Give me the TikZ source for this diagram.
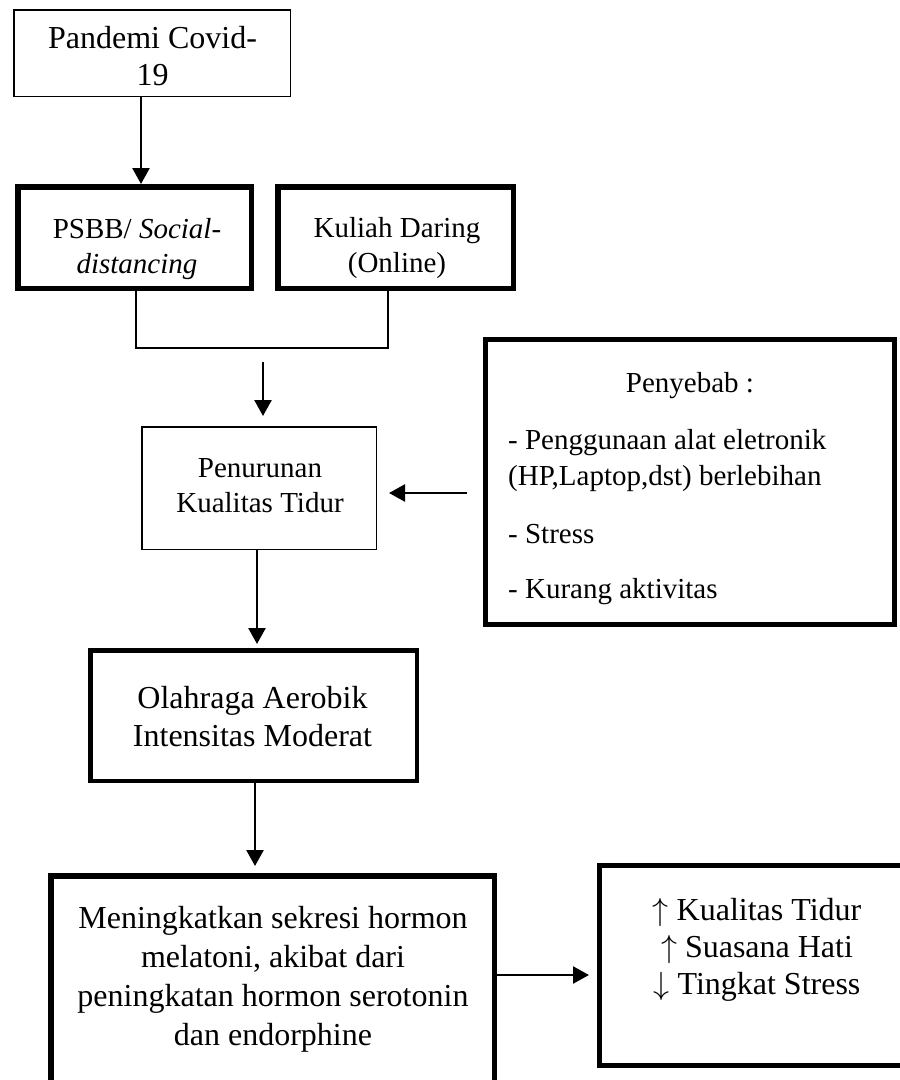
\RequirePackage{fix-cm}
\documentclass[tikz,border=0pt]{standalone}
\usepackage{fontspec}
\setmainfont{Liberation Serif}
\usetikzlibrary{arrows.meta,calc}
\begin{document}
\begin{tikzpicture}[x=1pt,y=-1pt,
  lightbox/.style={draw, rectangle, line width=1.5pt, inner sep=0pt},
  heavybox/.style={draw, rectangle, line width=#1, inner sep=0pt},
  heavybox/.default=5pt,
  arr/.style={line width=2.5pt, -{Triangle[length=16pt,width=17pt]}},
  link/.style={line width=2pt},
  txta/.style={font=\fontsize{29}{35}\selectfont, align=center, inner sep=0pt},
  txtl/.style={font=\fontsize{29}{36}\selectfont, align=left, inner sep=0pt},
  txtb/.style={font=\fontsize{32}{#1}\selectfont, align=center, inner sep=0pt},
  txtb/.default=37pt]
\useasboundingbox (0,0) rectangle (900,1080);
\clip (0,0) rectangle (900,1080);
% boxes
\node[lightbox, minimum width=276.5pt, minimum height=86.5pt] (pand) at (152,53) {};
\node[heavybox=5.5pt, minimum width=233.5pt, minimum height=101.5pt] (psbb) at (134.5,237.5) {};
\node[heavybox=5.5pt, minimum width=235.5pt, minimum height=101.5pt] (kul) at (395.5,237.5) {};
\node[lightbox, minimum width=234.5pt, minimum height=122.5pt] (pen) at (259,488) {};
\node[heavybox=5pt, minimum width=409pt, minimum height=285pt] (sebab) at (690,482) {};
\node[heavybox=4.5pt, minimum width=326.5pt, minimum height=130.5pt] (olah) at (253.5,715.5) {};
\node[heavybox=5.5pt, minimum width=443.5pt, minimum height=241.5pt] (horm) at (272.5,996.5) {};
\node[heavybox=5pt, minimum width=338pt, minimum height=200pt] (hasil) at (768.5,965.5) {};
% texts
\node[txtb=37pt] (tpand) at (152.5,59.1) {\strut Pandemi Covid-\\19\strut};
\node[txta] (tpsbb) at (137,248.5) {\strut PSBB/ \textit{Social-}\\\textit{distancing}\strut};
\node[txta] (tkul) at (397,247.5) {\strut Kuliah Daring\\(Online)\strut};
\node[txta] (tpen) at (260,487.5) {\strut Penurunan\\Kualitas Tidur\strut};
\node[txtl, anchor=base] (tsebab) at (690,392) {Penyebab :};
\node[txtl, anchor=west] (tsebab1) at (508,459.8) {\strut - Penggunaan alat eletronik\\(HP,Laptop,dst) berlebihan\strut};
\node[txtl, anchor=base west] (tsebab2) at (508,543) {- Stress};
\node[txtl, anchor=base west] (tsebab3) at (508,598) {- Kurang aktivitas};
\node[txtb=38pt] (tolah) at (252.5,719.4) {\strut Olahraga Aerobik\\Intensitas Moderat\strut};
\node[txtb=39pt] (thorm) at (273,978.7) {\strut Meningkatkan sekresi hormon\\melatoni, akibat dari\\peningkatan hormon serotonin\\dan endorphine\strut};
\node[txtb=37pt] (thasil) at (757,949.6) {\strut $\uparrow$ Kualitas Tidur\\$\uparrow$ Suasana Hati\\$\downarrow$ Tingkat Stress\strut};
% connectors
\draw[arr] ([xshift=-11pt]pand.south) -- ([xshift=-11pt]pand.south |- psbb.north);
\draw[link] ([xshift=1pt]psbb.south) -- ++(0,57) -| ([xshift=-7.5pt]kul.south);
\coordinate (a2top) at ([xshift=4pt,yshift=64pt]pen.north);
\coordinate (a2tip) at ([xshift=4pt,yshift=10pt]pen.north);
\draw[arr] (a2top) -- (a2tip);
\draw[arr] ([xshift=-16pt,yshift=-11pt]sebab.west) coordinate (a3s) -- ([xshift=12pt]pen.east |- a3s);
\draw[arr] ([xshift=-2pt]pen.south) -- ([xshift=-2pt,yshift=4pt]pen.south |- olah.north);
\draw[arr] ([xshift=1.5pt]olah.south) -- ([xshift=1.5pt,yshift=7pt]olah.south |- horm.north);
\draw[arr] ([yshift=21.5pt]horm.east) -- ([xshift=-8pt,yshift=21.5pt]horm.east -| hasil.west);
\end{tikzpicture}
\end{document}
